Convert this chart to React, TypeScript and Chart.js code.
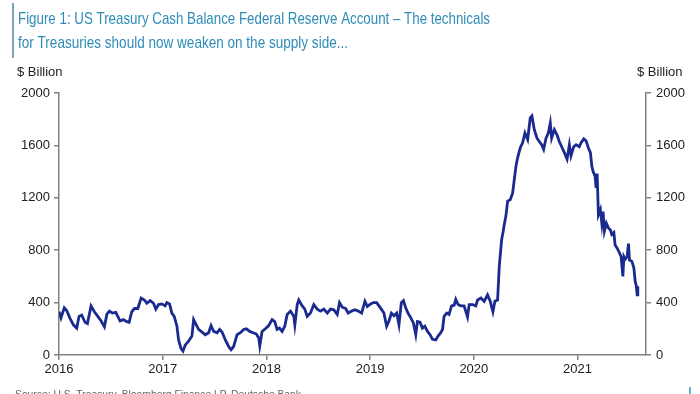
import React, { useEffect, useRef } from "react";
import { Chart, registerables } from "chart.js";

Chart.register(...registerables);

const titleLines = [
  "Figure 1: US Treasury Cash Balance Federal Reserve Account \u2013 The technicals",
  "for Treasuries should now weaken on the supply side...",
];
const sourceText = "Source: U.S. Treasury, Bloomberg Finance LP, Deutsche Bank";
const unitLabel = "$ Billion";
const yearTicks = [2016, 2017, 2018, 2019, 2020, 2021];
const valueTicks = [0, 400, 800, 1200, 1600, 2000];

// decimal-year dates and balances ($ billion)
const dates = [
  2016.0, 2016.019, 2016.051, 2016.074, 2016.106, 2016.139, 2016.171, 2016.193, 2016.219, 2016.251,
  2016.274, 2016.309, 2016.341, 2016.374, 2016.406, 2016.438, 2016.461, 2016.486, 2016.515, 2016.547,
  2016.573, 2016.589, 2016.621, 2016.654, 2016.676, 2016.702, 2016.728, 2016.76, 2016.792, 2016.824,
  2016.847, 2016.879, 2016.911, 2016.934, 2016.96, 2016.992, 2017.024, 2017.04, 2017.066, 2017.088,
  2017.111, 2017.137, 2017.153, 2017.176, 2017.195, 2017.217, 2017.249, 2017.282, 2017.298, 2017.314,
  2017.346, 2017.379, 2017.411, 2017.443, 2017.466, 2017.491, 2017.524, 2017.549, 2017.572, 2017.604,
  2017.636, 2017.659, 2017.684, 2017.717, 2017.749, 2017.781, 2017.807, 2017.839, 2017.872, 2017.903,
  2017.926, 2017.936, 2017.958, 2017.99, 2018.022, 2018.055, 2018.08, 2018.103, 2018.126, 2018.151,
  2018.177, 2018.2, 2018.232, 2018.264, 2018.274, 2018.297, 2018.312, 2018.345, 2018.37, 2018.393,
  2018.425, 2018.457, 2018.49, 2018.522, 2018.554, 2018.587, 2018.618, 2018.65, 2018.683, 2018.705,
  2018.731, 2018.763, 2018.789, 2018.821, 2018.853, 2018.886, 2018.918, 2018.95, 2018.973, 2019.005,
  2019.031, 2019.063, 2019.085, 2019.108, 2019.133, 2019.159, 2019.182, 2019.205, 2019.23, 2019.256,
  2019.278, 2019.301, 2019.321, 2019.343, 2019.365, 2019.391, 2019.417, 2019.44, 2019.456, 2019.481,
  2019.504, 2019.527, 2019.553, 2019.578, 2019.601, 2019.633, 2019.655, 2019.681, 2019.698, 2019.713,
  2019.739, 2019.761, 2019.785, 2019.81, 2019.826, 2019.848, 2019.874, 2019.906, 2019.939, 2019.955,
  2019.987, 2020.019, 2020.036, 2020.068, 2020.1, 2020.132, 2020.158, 2020.184, 2020.203, 2020.229,
  2020.245, 2020.268, 2020.283, 2020.293, 2020.309, 2020.326, 2020.351, 2020.374, 2020.39, 2020.406,
  2020.422, 2020.447, 2020.47, 2020.493, 2020.519, 2020.544, 2020.56, 2020.583, 2020.609, 2020.631,
  2020.654, 2020.673, 2020.696, 2020.718, 2020.737, 2020.75, 2020.776, 2020.802, 2020.824, 2020.847,
  2020.873, 2020.899, 2020.921, 2020.937, 2020.963, 2020.986, 2021.017, 2021.034, 2021.06, 2021.082,
  2021.105, 2021.124, 2021.138, 2021.15, 2021.169, 2021.179, 2021.189, 2021.201, 2021.22, 2021.234,
  2021.246, 2021.259, 2021.278, 2021.298, 2021.317, 2021.33, 2021.35, 2021.362, 2021.382, 2021.404,
  2021.42, 2021.437, 2021.447, 2021.459, 2021.478, 2021.491, 2021.501, 2021.524, 2021.543, 2021.556,
  2021.565, 2021.575, 2021.581,
];
const balances = [
  330, 283, 360, 340, 280, 230, 205, 295, 305, 250,
  240, 375, 330, 295, 260, 215, 310, 335, 320, 325,
  285, 260, 270, 255, 250, 330, 355, 355, 435, 420,
  395, 415, 395, 350, 385, 390, 375, 400, 390, 320,
  295, 220, 115, 50, 30, 75, 105, 145, 270, 245,
  195, 175, 155, 170, 225, 180, 170, 195, 175, 115,
  65, 40, 65, 155, 170, 195, 200, 180, 170, 160,
  130, 70, 180, 200, 225, 270, 255, 195, 205, 180,
  220, 310, 335, 295, 230, 385, 420, 375, 350, 295,
  320, 385, 350, 335, 350, 320, 350, 345, 310, 400,
  365, 355, 320, 335, 345, 335, 320, 410, 370, 390,
  400, 400, 375, 350, 320, 220, 260, 320, 300, 320,
  230, 400, 415, 360, 320, 285, 245, 155, 255, 250,
  205, 220, 180, 155, 120, 115, 145, 170, 195, 295,
  320, 310, 375, 380, 425, 385, 375, 375, 290, 385,
  385, 375, 420, 435, 410, 460, 410, 330, 410, 420,
  675, 880, 945, 995, 1060, 1175, 1185, 1235, 1340, 1440,
  1505, 1580, 1620, 1695, 1645, 1810, 1825, 1720, 1655, 1630,
  1605, 1570, 1655, 1695, 1770, 1655, 1720, 1680, 1630, 1590,
  1545, 1495, 1605, 1520, 1590, 1605, 1590, 1620, 1650, 1635,
  1580, 1545, 1440, 1400, 1365, 1275, 1385, 1070, 1110, 1005,
  1095, 945, 1005, 970, 955, 920, 935, 840, 815, 780,
  750, 600, 750, 730, 750, 850, 725, 715, 665, 560,
  535, 460, 525,
];

const FONT = "Arial, 'Liberation Sans', Helvetica, sans-serif";

export default function App() {
  const ref = useRef<HTMLCanvasElement | null>(null);

  useEffect(() => {
    if (!ref.current) return;
    const decor = {
      id: "decor",
      beforeDraw(chart: any) {
        const ctx = chart.ctx;
        ctx.save();
        ctx.fillStyle = "#ffffff";
        ctx.fillRect(0, 0, chart.width, chart.height);
        ctx.restore();
      },
      afterDraw(chart: any) {
        const ctx = chart.ctx;
        ctx.save();
        // title accent bar
        ctx.strokeStyle = "#4f86ad";
        ctx.lineWidth = 1.5;
        ctx.beginPath();
        ctx.moveTo(13, 3);
        ctx.lineTo(13, 58);
        ctx.stroke();
        // title
        ctx.fillStyle = "#2f8cb6";
        ctx.font = `17px ${FONT}`;
        ctx.textBaseline = "alphabetic";
        ctx.textAlign = "left";
        ctx.fillText(titleLines[0], 18, 24, 472);
        ctx.fillText(titleLines[1], 18, 48, 330);
        // unit labels
        ctx.fillStyle = "#222222";
        ctx.font = `13px ${FONT}`;
        ctx.fillText(unitLabel, 17, 76);
        ctx.fillText(unitLabel, 637, 76);
        // source
        ctx.fillStyle = "#666666";
        ctx.font = `11px ${FONT}`;
        ctx.fillText(sourceText, 15, 398, 286);
        // footer mark
        ctx.strokeStyle = "#2f9cb6";
        ctx.lineWidth = 1.5;
        ctx.beginPath();
        ctx.moveTo(690, 387);
        ctx.lineTo(690, 394);
        ctx.stroke();
        ctx.restore();
      },
    };

    const axisGrid = {
      display: true,
      drawOnChartArea: false,
      drawTicks: true,
      tickLength: 5,
      color: "#808080",
      tickColor: "#808080",
      lineWidth: 1.5,
    };
    const axisBorder = { display: true, color: "#808080", width: 1.5 };
    const tickFont = { family: FONT, size: 13 };

    const chart = new Chart(ref.current, {
      type: "line",
      data: {
        datasets: [
          {
            data: dates.map((d, i) => ({ x: d, y: balances[i] })),
            borderColor: "#1a2a8f",
            borderWidth: 2.8,
            pointRadius: 0,
            tension: 0,
            fill: false,
          },
        ],
      },
      options: {
        responsive: false,
        animation: false,
        parsing: true,
        layout: { padding: { top: 93, left: 0, right: 0, bottom: 0 } },
        plugins: { legend: { display: false }, tooltip: { enabled: false }, title: { display: false } },
        scales: {
          x: {
            type: "linear",
            min: 2016,
            max: 2021.66,
            grid: axisGrid,
            border: axisBorder,
            afterBuildTicks: (axis: any) => {
              axis.ticks = yearTicks.map((v) => ({ value: v }));
            },
            afterFit: (axis: any) => {
              axis.height = 39;
            },
            ticks: {
              color: "#222222",
              font: tickFont,
              padding: 2,
              maxRotation: 0,
              autoSkip: false,
              callback: (v: any) => String(v),
            },
          },
          y: {
            type: "linear",
            position: "left",
            min: 0,
            max: 2000,
            grid: axisGrid,
            border: axisBorder,
            afterBuildTicks: (axis: any) => {
              axis.ticks = valueTicks.map((v) => ({ value: v }));
            },
            afterFit: (axis: any) => {
              axis.width = 59;
            },
            ticks: { color: "#222222", font: tickFont, padding: 4, callback: (v: any) => String(v) },
          },
          y2: {
            type: "linear",
            position: "right",
            min: 0,
            max: 2000,
            grid: axisGrid,
            border: axisBorder,
            afterBuildTicks: (axis: any) => {
              axis.ticks = valueTicks.map((v) => ({ value: v }));
            },
            afterFit: (axis: any) => {
              axis.width = 54;
            },
            ticks: { color: "#222222", font: tickFont, padding: 5, callback: (v: any) => String(v) },
          },
        },
      },
      plugins: [decor],
    } as any);
    return () => chart.destroy();
  }, []);

  return (
    <div style={{ position: "absolute", left: 0, top: 0, width: 700, height: 394, overflow: "hidden", background: "#fff" }}>
      <canvas ref={ref} width={700} height={394} style={{ display: "block", width: 700, height: 394 }} />
    </div>
  );
}
